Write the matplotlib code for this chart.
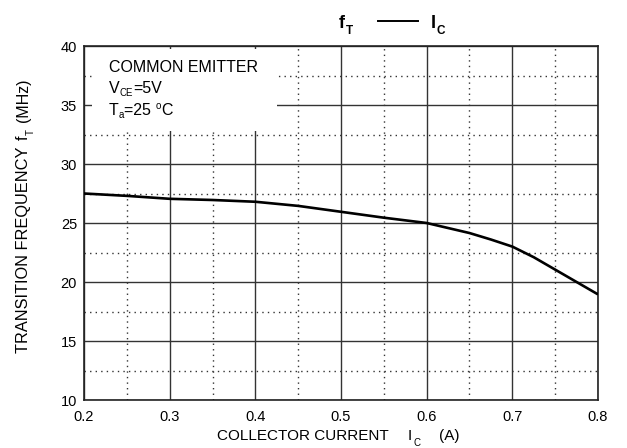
import matplotlib
matplotlib.use("Agg")
import matplotlib.pyplot as plt
import numpy as np
import math
from matplotlib.patches import Rectangle
from matplotlib.lines import Line2D
from matplotlib.transforms import offset_copy

plt.rcParams['font.family'] = ['Liberation Sans', 'DejaVu Sans']

ic = [0.2, 0.25, 0.3, 0.35, 0.4, 0.45, 0.5, 0.55, 0.6, 0.65, 0.675, 0.7, 0.725, 0.75, 0.775, 0.8]
ft = [27.5, 27.3, 27.05, 26.95, 26.8, 26.45, 25.95, 25.45, 25.0, 24.15, 23.6, 23.0, 22.1, 21.05, 20.0, 18.95]

xticks = [0.2, 0.3, 0.4, 0.5, 0.6, 0.7, 0.8]
yticks = [10, 15, 20, 25, 30, 35, 40]

fig = plt.figure(figsize=(6.27, 4.48), dpi=100)
ax = fig.add_axes([84/627, 48/448, 514/627, 354/448])
ax.set_xlim(0.2, 0.8)
ax.set_ylim(10, 40)
ax.set_xticks(xticks)
ax.set_xticklabels([f"{v:.1f}" for v in xticks])
ax.set_yticks(yticks)
ax.set_xticks(np.arange(0.25, 0.8, 0.1), minor=True)
ax.set_yticks(np.arange(12.5, 40, 5), minor=True)
ax.grid(which='major', color='#333333', linewidth=1.0, linestyle='-', zorder=0)
ax.grid(which='minor', color='#333333', linewidth=1.0, linestyle=(0, (1, 3)), zorder=0)
ax.tick_params(which='both', length=0, labelsize=10.5)
ax.tick_params(axis='x', pad=7)
ax.tick_params(axis='y', pad=5)
for s in ax.spines.values():
    s.set_linewidth(1.2)
    s.set_color('#222222')
ax.set_axisbelow(True)

ax.add_patch(Rectangle((8/514, 1 - 85/354), 185/514, 82/354, transform=ax.transAxes,
                       facecolor='white', edgecolor='none', zorder=1))

renderer = fig.canvas.get_renderer()


def seq_text(x, y, pieces, rotation=0):
    """pieces: list of (text, size, dy_points, gap_points, weight). x,y in figure pixels."""
    cur = 0.0
    ang = math.radians(rotation)
    for txt, size, dy, gap, weight in pieces:
        cur += gap
        dx_pt = cur * math.cos(ang) - dy * math.sin(ang)
        dy_pt = cur * math.sin(ang) + dy * math.cos(ang)
        tr = offset_copy(fig.transFigure, fig=fig, x=dx_pt, y=dy_pt, units='points')
        t = fig.text(x / 627, 1 - y / 448, txt, fontsize=size, fontweight=weight,
                     transform=tr, rotation=rotation, rotation_mode='anchor',
                     ha='left', va='baseline', zorder=5)
        bb = t.get_window_extent(renderer)
        w = (bb.width if rotation == 0 else bb.height) * 72 / fig.dpi
        cur += w


F = 11.5
seq_text(109, 72, [('COMMON EMITTER', F, 0, 0, 'normal')])
seq_text(109, 93, [('V', F, 0, 0, 'normal'), ('CE', 7, -2.5, 0, 'normal'), ('=5V', F, 0, 0, 'normal')])
seq_text(109, 115, [('T', F, 0, 0, 'normal'), ('a', 7, -2.5, 0, 'normal'), ('=25 ', F, 0, 0, 'normal'),
                    ('o', 7, 4.0, 0, 'normal'), ('C', F, 0, 0, 'normal')])

ax.plot(ic, ft, color='black', linewidth=1.9, zorder=4, solid_capstyle='butt')

# x label
seq_text(217, 440, [('COLLECTOR CURRENT', 11, 0, 0, 'normal'), ('I', 11, 0, 13.5, 'normal'),
                    ('C', 7, -4, 1.5, 'normal'), ('(A)', 11, 0, 13, 'normal')])
# y label
seq_text(28, 353, [('TRANSITION FREQUENCY', 11.8, 0, 0, 'normal'), ('f', 11.5, 0, 5, 'normal'),
                   ('T', 7, -4, 0.3, 'normal'), ('(MHz)', 11.5, 0, 5, 'normal')], rotation=90)
# title
seq_text(339, 28, [('f', 13, 0, 0, 'bold'), ('T', 8.5, -4.5, 0.5, 'bold')])
fig.add_artist(Line2D([378/627, 418/627], [1 - 21/448, 1 - 21/448], color='black', linewidth=1.4,
                      transform=fig.transFigure))
seq_text(431, 28, [('I', 13, 0, 0, 'bold'), ('C', 8.5, -4.5, 0.5, 'bold')])

fig.savefig('out.png', dpi=100)
